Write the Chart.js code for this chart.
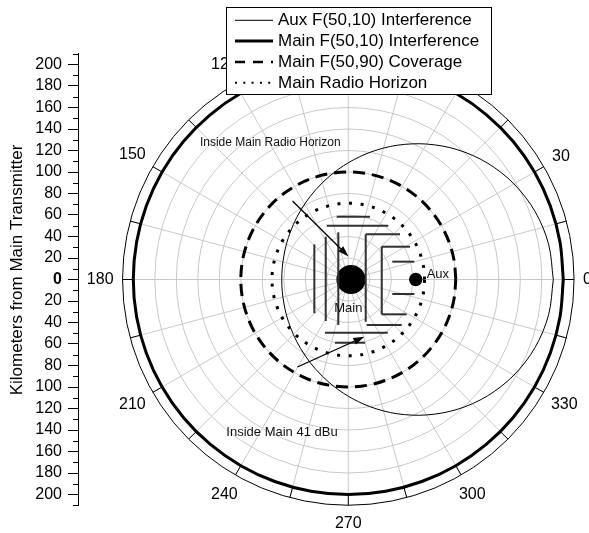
<!DOCTYPE html>
<html>
<head>
<meta charset="utf-8">
<script src="https://cdn.jsdelivr.net/npm/chart.js@4.4.1/dist/chart.umd.min.js"></script>
<style>
  html, body { margin: 0; padding: 0; background: #fff; }
  canvas { display: block; }
</style>
</head>
<body>
<canvas id="chart" width="589" height="533"></canvas>
<script>
// Azimuths (degrees, counter-clockwise from east) of the contour radials
const azimuths = [0, 10, 20, 30, 40, 50, 60, 70, 80, 90, 100, 110, 120, 130, 140, 150, 160, 170,
                  180, 190, 200, 210, 220, 230, 240, 250, 260, 270, 280, 290, 300, 310, 320, 330, 340, 350, 360];

// Distance (km) from the main transmitter to each contour along those radials
const auxInterferenceKm = [190.7, 189.2, 184.9, 177.9, 168.7, 157.7, 145.5, 132.9, 120.4, 108.6,
                           98.0, 88.8, 81.1, 74.9, 70.0, 66.4, 63.8, 62.4, 61.9, 62.4, 63.8, 66.4,
                           70.0, 74.9, 81.1, 88.8, 98.0, 108.6, 120.4, 132.9, 145.5, 157.7, 168.7,
                           177.9, 184.9, 189.2, 190.7];
const mainInterferenceKm = [200, 200, 200, 200, 200, 200, 200, 200, 200, 200, 200, 200, 200, 200,
                            200, 200, 200, 200, 200, 200, 200, 200, 200, 200, 200, 200, 200, 200,
                            200, 200, 200, 200, 200, 200, 200, 200, 200];
const mainCoverageKm = [100, 100, 100, 100, 100, 100, 100, 100, 100, 100, 100, 100, 100, 100,
                        100, 100, 100, 100, 100, 100, 100, 100, 100, 100, 100, 100, 100, 100,
                        100, 100, 100, 100, 100, 100, 100, 100, 100];
const mainHorizonKm = [71, 71, 71, 71, 71, 71, 71, 71, 71, 71, 71, 71, 71, 71, 71, 71, 71, 71,
                       71, 71, 71, 71, 71, 71, 71, 71, 71, 71, 71, 71, 71, 71, 71, 71, 71, 71, 71];

// Transmitter sites (km east / north of the main site reference)
const siteNames = ['Main', 'Aux'];
const siteEastKm = [2.5, 62.7];
const siteNorthKm = [0, 0];

// Polar frame: range rings, radials and azimuth labels
const ringKm = [20, 40, 60, 80, 100, 120, 140, 160, 180, 200];
const outerKm = 210;
const spokeDeg = [0, 15, 30, 45, 60, 75, 90, 105, 120, 135, 150, 165, 180, 195, 210, 225, 240, 255,
                  270, 285, 300, 315, 330, 345];
const azimuthLabelDeg = [0, 30, 60, 90, 120, 150, 180, 210, 240, 270, 300, 330];
const azimuthLabels = ['0', '30', '60', '90', '120', '150', '180', '210', '240', '270', '300', '330'];

// Callout drawing (km): bracket strokes, arrows and notes
const noteSegments = [
  [-31.6, 32.7, -31.6, -31.4],
  [-21.0, 39.8, -21.0, -38.6],
  [-9.3, 43.9, -9.3, -42.3],
  [-10.8, 58.4, 20.2, 58.4],
  [-20.1, 50.0, 37.2, 50.0],
  [16.2, 42.0, 16.2, -39.3],
  [16.2, 42.0, 48.1, 42.0],
  [17.1, -42.3, 49.7, -42.3],
  [31.1, 30.5, 31.1, -32.4],
  [31.1, 30.5, 57.4, 30.5],
  [31.1, -32.4, 54.3, -32.4],
  [40.9, 16.6, 61.4, 16.6],
  [40.9, -13.5, 61.4, -13.5],
  [-21.7, -49.5, 36.7, -49.5],
  [-12.4, -58.8, 15.5, -58.8]
];
const noteArrows = [
  [-51.9, 73.0, 0.2, 21.4],
  [-47.3, -81.4, 14.9, -53.2]
];
const noteTexts = [
  { text: 'Inside Main Radio Horizon', x: -72.6, y: 127.4, size: 12 },
  { text: 'Inside Main 41 dBu', x: -61.7, y: -142.5, size: 13 },
  { text: 'Main', x: 0, y: -26.8, size: 13 },
  { text: 'Aux', x: 83.3, y: 4.8, size: 13 }
];

const FONT = '"Liberation Sans", Arial, Helvetica, sans-serif';
Chart.defaults.font.family = FONT;
Chart.defaults.color = '#000';

// Layout: equal km-per-pixel on both axes, radial axis on the left.
// The right padding leaves room for the largest site marker.
const AREA_LEFT = 78, AREA_RIGHT = 574, AREA_TOP = 53.75, AREA_BOTTOM = 505.25, CANVAS_W = 589, CANVAS_H = 533;
const CENTER_X = 348.3;
const PX_PER_KM = (AREA_BOTTOM - AREA_TOP) / (2 * outerKm);
const xMin = -(CENTER_X - AREA_LEFT) / PX_PER_KM;
const xMax = (AREA_RIGHT - CENTER_X) / PX_PER_KM;

function contour(distances) {
  return azimuths.map((deg, i) => {
    const t = deg * Math.PI / 180;
    return { x: distances[i] * Math.cos(t), y: distances[i] * Math.sin(t) };
  });
}

const sitePoints = siteNames.map((n, i) => ({ x: siteEastKm[i], y: siteNorthKm[i] }));

const lineBase = { showLine: true, pointRadius: 0, pointHoverRadius: 0, fill: false, borderColor: '#000', tension: 0.33 };

const datasets = [
  Object.assign({}, lineBase, { label: 'Aux F(50,10) Interference', data: contour(auxInterferenceKm), borderWidth: 1, keyWidth: 1, order: 4 }),
  Object.assign({}, lineBase, { label: 'Main F(50,10) Interference', data: contour(mainInterferenceKm), borderWidth: 3, keyWidth: 3, order: 3 }),
  Object.assign({}, lineBase, { label: 'Main F(50,90) Coverage', data: contour(mainCoverageKm), borderWidth: 3, borderDash: [12, 7], keyWidth: 2.5, keyDash: [10, 8], order: 2 }),
  Object.assign({}, lineBase, { label: 'Main Radio Horizon', data: contour(mainHorizonKm), borderWidth: 3, borderDash: [3, 8.6], keyWidth: 2, keyDash: [2, 6.3], order: 1 }),
  { label: 'Sites', data: sitePoints, showLine: false, pointRadius: [14.6, 6.7], pointHoverRadius: [14.6, 6.7],
    pointBackgroundColor: '#000', pointBorderWidth: 0, backgroundColor: '#000', order: 0, noKey: true }
];

const polarFrame = {
  id: 'polarFrame',
  beforeDatasetsDraw(chart) {
    const { ctx } = chart;
    const xs = chart.scales.x, ys = chart.scales.y;
    const cx = xs.getPixelForValue(0), cy = ys.getPixelForValue(0);
    const k = xs.getPixelForValue(1) - cx;
    ctx.save();
    ctx.strokeStyle = '#c8c8c8';
    ctx.lineWidth = 1;
    ringKm.forEach(r => { ctx.beginPath(); ctx.arc(cx, cy, r * k, 0, Math.PI * 2); ctx.stroke(); });
    spokeDeg.forEach(a => {
      const t = a * Math.PI / 180;
      ctx.beginPath();
      ctx.moveTo(cx, cy);
      ctx.lineTo(cx + outerKm * k * Math.cos(t), cy - outerKm * k * Math.sin(t));
      ctx.stroke();
    });
    ctx.restore();
  },
  afterDatasetsDraw(chart) {
    const { ctx } = chart;
    const xs = chart.scales.x, ys = chart.scales.y;
    const cx = xs.getPixelForValue(0), cy = ys.getPixelForValue(0);
    const k = xs.getPixelForValue(1) - cx;
    const R = outerKm * k;
    ctx.save();
    ctx.strokeStyle = '#000';
    ctx.lineWidth = 1;
    ctx.beginPath(); ctx.arc(cx, cy, R, 0, Math.PI * 2); ctx.stroke();
    spokeDeg.forEach(a => {
      const t = a * Math.PI / 180, c = Math.cos(t), s = Math.sin(t);
      ctx.beginPath();
      ctx.moveTo(cx + R * c, cy - R * s);
      ctx.lineTo(cx + (R - 10) * c, cy - (R - 10) * s);
      ctx.stroke();
    });
    // azimuth labels outside the frame
    ctx.font = '16px ' + FONT;
    ctx.fillStyle = '#000';
    ctx.textAlign = 'center';
    ctx.textBaseline = 'middle';
    azimuthLabelDeg.forEach((a, i) => {
      const t = a * Math.PI / 180, c = Math.cos(t), s = Math.sin(t);
      const w = ctx.measureText(azimuthLabels[i]).width;
      const r = R + 9 + Math.abs(c) * w / 2 + Math.abs(s) * 6 + Math.pow(Math.abs(s), 6) * 3;
      ctx.fillText(azimuthLabels[i], cx + r * c, cy - r * s);
    });
    // callout strokes
    const px = v => xs.getPixelForValue(v), py = v => ys.getPixelForValue(v);
    ctx.strokeStyle = '#303030';
    ctx.lineWidth = 2;
    noteSegments.forEach(([x1, y1, x2, y2]) => {
      ctx.beginPath(); ctx.moveTo(px(x1), py(y1)); ctx.lineTo(px(x2), py(y2)); ctx.stroke();
    });
    ctx.strokeStyle = '#000';
    ctx.fillStyle = '#000';
    ctx.lineWidth = 1.3;
    noteArrows.forEach(([x1, y1, x2, y2]) => {
      const ax = px(x1), ay = py(y1), bx = px(x2), by = py(y2);
      const ang = Math.atan2(by - ay, bx - ax);
      const hl = 11, hw = 3.6;
      const baseX = bx - hl * Math.cos(ang), baseY = by - hl * Math.sin(ang);
      ctx.beginPath(); ctx.moveTo(ax, ay); ctx.lineTo(baseX, baseY); ctx.stroke();
      ctx.beginPath();
      ctx.moveTo(bx, by);
      ctx.lineTo(baseX + hw * Math.sin(ang), baseY - hw * Math.cos(ang));
      ctx.lineTo(baseX - hw * Math.sin(ang), baseY + hw * Math.cos(ang));
      ctx.closePath();
      ctx.fill();
    });
    ctx.fillStyle = '#111';
    noteTexts.forEach(n => {
      ctx.font = n.size + 'px ' + FONT;
      ctx.fillText(n.text, px(n.x), py(n.y));
    });
    ctx.restore();
  },
  afterDraw(chart) {
    const { ctx } = chart;
    const ys = chart.scales.y;
    const area = chart.chartArea;
    ctx.save();
    // minor ticks on the radial axis
    ctx.strokeStyle = '#000';
    ctx.lineWidth = 1;
    ys.ticks.forEach(t => {
      if (t.value % 20 !== 0) {
        const y = Math.round(ys.getPixelForValue(t.value)) + 0.5;
        ctx.beginPath(); ctx.moveTo(area.left - 5, y); ctx.lineTo(area.left + 0.5, y); ctx.stroke();
      }
    });
    // axis title
    ctx.save();
    ctx.translate(17, 270);
    ctx.rotate(-Math.PI / 2);
    ctx.font = '17px ' + FONT;
    ctx.fillStyle = '#000';
    ctx.textAlign = 'center';
    ctx.textBaseline = 'middle';
    ctx.fillText('Kilometers from Main Transmitter', 0, 0);
    ctx.restore();
    // key
    const box = { left: 226.5, top: 7.5, right: 491.5, bottom: 94.5 };
    ctx.fillStyle = '#fff';
    ctx.fillRect(box.left, box.top, box.right - box.left, box.bottom - box.top);
    ctx.strokeStyle = '#000';
    ctx.lineWidth = 1;
    ctx.strokeRect(box.left, box.top, box.right - box.left, box.bottom - box.top);
    ctx.font = '17px ' + FONT;
    ctx.textAlign = 'left';
    ctx.textBaseline = 'middle';
    chart.data.datasets.filter(d => !d.noKey).forEach((d, i) => {
      const y = box.top + 12.8 + i * 20.8;
      ctx.strokeStyle = '#000';
      ctx.lineWidth = d.keyWidth;
      ctx.setLineDash(d.keyDash || []);
      ctx.beginPath(); ctx.moveTo(box.left + 8.5, y); ctx.lineTo(box.left + 46.5, y); ctx.stroke();
      ctx.setLineDash([]);
      ctx.fillStyle = '#000';
      ctx.fillText(d.label, box.left + 51.5, y + 0.5);
    });
    ctx.restore();
  }
};

new Chart(document.getElementById('chart'), {
  type: 'scatter',
  data: { datasets },
  options: {
    responsive: false,
    animation: false,
    events: [],
    layout: { padding: { left: 0, right: CANVAS_W - AREA_RIGHT, top: AREA_TOP, bottom: CANVAS_H - AREA_BOTTOM } },
    plugins: { legend: { display: false }, tooltip: { enabled: false } },
    scales: {
      x: { type: 'linear', display: false, min: xMin, max: xMax },
      y: {
        type: 'linear',
        position: 'left',
        min: -outerKm,
        max: outerKm,
        afterFit(scale) { scale.width = AREA_LEFT; },
        border: { display: true, color: '#000', width: 1 },
        grid: {
          drawOnChartArea: false,
          drawTicks: true,
          tickLength: 10,
          tickWidth: 1,
          tickColor: ctx => (ctx.tick && ctx.tick.value % 20 === 0) ? '#000' : 'rgba(0,0,0,0)'
        },
        ticks: {
          stepSize: 10,
          autoSkip: false,
          padding: 6,
          color: '#000',
          font: ctx => ({ size: 16, weight: (ctx.tick && ctx.tick.value === 0) ? 'bold' : 'normal' }),
          callback: v => (v % 20 === 0 ? String(Math.abs(v)) : '')
        }
      }
    }
  },
  plugins: [polarFrame]
});
</script>
</body>
</html>
